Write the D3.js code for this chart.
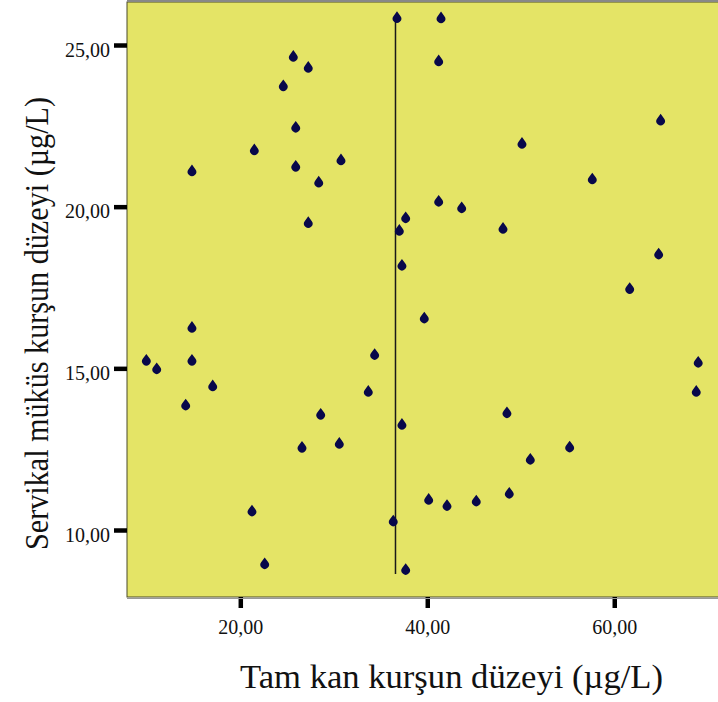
<!DOCTYPE html>
<html>
<head>
<meta charset="utf-8">
<script src="https://cdn.jsdelivr.net/npm/d3@7"></script>
<style>
  body { margin: 0; background: #fff; }
  svg { display: block; }
</style>
</head>
<body>
<div id="chart-area"></div>
<script>
// blood lead (x) vs cervical mucus lead (y)
const xValues = [36.76, 41.47, 41.22, 25.67, 27.27, 24.60, 64.96, 25.93, 21.50, 50.13,
                 30.77, 14.83, 25.93, 28.39, 57.65, 41.22, 43.68, 37.69, 27.27, 37.01,
                 48.10, 37.29, 64.75, 61.65, 39.68, 14.83, 34.37, 9.95, 14.83, 11.06,
                 17.05, 68.98, 33.69, 14.16, 68.77, 28.60, 48.52, 37.29, 30.59, 26.60,
                 55.23, 51.02, 21.25, 36.36, 40.15, 42.11, 45.24, 48.77, 22.61, 37.69]
const yValues = [25.82, 25.81, 24.48, 24.62, 24.28, 23.71, 22.65, 22.43, 21.73, 21.93,
                 21.42, 21.08, 21.22, 20.73, 20.83, 20.14, 19.94, 19.63, 19.48, 19.24,
                 19.30, 18.16, 18.51, 17.44, 16.53, 16.24, 15.40, 15.22, 15.22, 14.96,
                 14.43, 15.16, 14.26, 13.84, 14.26, 13.55, 13.60, 13.24, 12.65, 12.53,
                 12.54, 12.16, 10.56, 10.25, 10.92, 10.73, 10.87, 11.11, 8.93, 8.75]
const xTicks = [20, 40, 60]
const yTicks = [10, 15, 20, 25]
const refX = 36.6
const refY = [8.64, 25.83]

const xTitle = "Tam kan kurşun düzeyi (µg/L)"
const yTitle = "Servikal müküs kurşun düzeyi (µg/L)"

const MARGIN = { LEFT: 127, TOP: 2, RIGHT: -2, BOTTOM: 105 }
const W = 718, H = 702
const WIDTH = W - MARGIN.LEFT - MARGIN.RIGHT
const HEIGHT = H - MARGIN.TOP - MARGIN.BOTTOM

const svg = d3.select("#chart-area").append("svg")
  .attr("width", W)
  .attr("height", H)

const g = svg.append("g")
  .attr("transform", `translate(${MARGIN.LEFT}, ${MARGIN.TOP})`)

const x = d3.scaleLinear()
  .domain([7.882, 71.31])
  .range([0, WIDTH])

const y = d3.scaleLinear()
  .domain([7.928, 26.33])
  .range([HEIGHT, 0])

const fmt = d3.formatLocale({ decimal: ",", thousands: ".", grouping: [3], currency: ["", ""] }).format(".2f")

// plot background
g.append("rect")
  .attr("width", WIDTH)
  .attr("height", HEIGHT)
  .attr("fill", "#e4e466")
  .attr("stroke", "#4a4a2a")
  .attr("stroke-width", 1)

svg.append("line")
  .attr("x1", MARGIN.LEFT).attr("x2", W)
  .attr("y1", 1).attr("y2", 1)
  .attr("stroke", "#888").attr("stroke-width", 2)
svg.append("line")
  .attr("x1", MARGIN.LEFT).attr("x2", W)
  .attr("y1", MARGIN.TOP + HEIGHT + 1.5).attr("y2", MARGIN.TOP + HEIGHT + 1.5)
  .attr("stroke", "#999").attr("stroke-width", 1)

// axes
const xAxisCall = d3.axisBottom(x)
  .tickValues(xTicks)
  .tickSize(11)
  .tickPadding(12)
  .tickFormat(fmt)
const xAxis = g.append("g")
  .attr("class", "x axis")
  .attr("transform", `translate(0, ${HEIGHT})`)
  .call(xAxisCall)

const yAxisCall = d3.axisLeft(y)
  .tickValues(yTicks)
  .tickSize(13)
  .tickPadding(4)
  .tickFormat(fmt)
const yAxis = g.append("g")
  .attr("class", "y axis")
  .call(yAxisCall)

g.selectAll(".axis .domain").remove()
g.selectAll(".axis .tick line")
  .attr("stroke", "#000")
  .attr("stroke-width", 4.5)
g.selectAll(".axis text")
  .attr("font-family", "'Liberation Serif', 'Times New Roman', serif")
  .attr("font-size", "20px")
  .attr("fill", "#111")
yAxis.selectAll("text").attr("dy", "0.55em")

// reference line
g.append("line")
  .attr("x1", x(refX)).attr("x2", x(refX))
  .attr("y1", y(refY[0])).attr("y2", y(refY[1]))
  .attr("stroke", "#1a1a1a")
  .attr("stroke-width", 1.5)

// drop markers
const drop = "M0,-7.2 L3.4,-2.6 A4.3,4.3 0 1 1 -3.4,-2.6 Z"
g.selectAll(".pt")
  .data(xValues.map((v, i) => ({ x: v, y: yValues[i] })))
  .enter().append("path")
  .attr("class", "pt")
  .attr("d", drop)
  .attr("transform", d => `translate(${x(d.x)}, ${y(d.y)})`)
  .attr("fill", "#08084a")

// axis titles
svg.append("text")
  .attr("x", 240)
  .attr("y", 688)
  .attr("font-family", "'Liberation Serif', 'Times New Roman', serif")
  .attr("font-size", "34px")
  .attr("fill", "#111")
  .attr("textLength", 423)
  .attr("lengthAdjust", "spacingAndGlyphs")
  .text(xTitle)

svg.append("text")
  .attr("transform", "translate(48, 550) rotate(-90)")
  .attr("font-family", "'Liberation Serif', 'Times New Roman', serif")
  .attr("font-size", "34px")
  .attr("fill", "#111")
  .attr("textLength", 453)
  .attr("lengthAdjust", "spacingAndGlyphs")
  .text(yTitle)
</script>
</body>
</html>
